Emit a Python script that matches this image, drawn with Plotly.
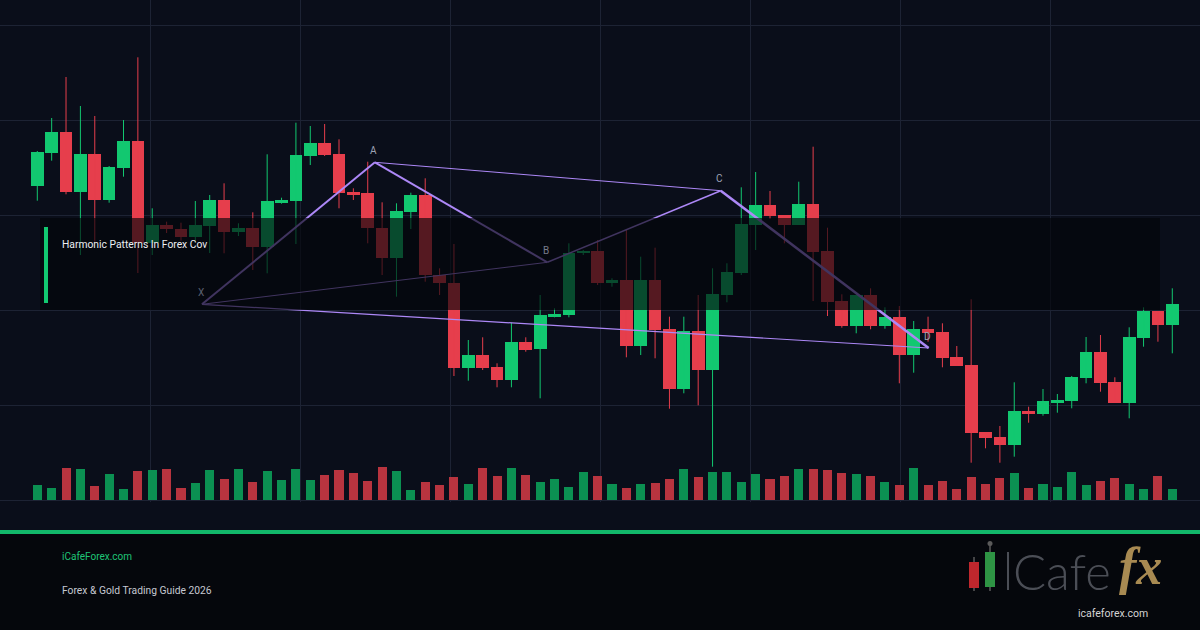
import plotly.graph_objects as go

# ---------------- DATA ----------------
opens = [2331.43, 2334.73, 2336.80, 2330.83, 2334.60, 2330.00, 2333.23, 2335.90, 2325.67, 2327.50,
         2327.07, 2326.33, 2327.43, 2330.00, 2326.83, 2327.17, 2325.27, 2329.70, 2329.90, 2334.40,
         2335.73, 2334.60, 2330.83, 2330.73, 2327.23, 2324.23, 2328.83, 2330.50, 2322.50, 2321.73,
         2313.23, 2314.50, 2313.33, 2312.00, 2315.77, 2315.07, 2318.33, 2318.50, 2324.67, 2324.90,
         2321.73, 2321.97, 2315.40, 2321.97, 2317.07, 2311.13, 2316.87, 2313.00, 2320.53, 2322.70,
         2327.53, 2329.50, 2328.50, 2327.53, 2329.60, 2324.90, 2319.90, 2317.40, 2320.50, 2317.40,
         2318.33, 2314.50, 2317.07, 2316.80, 2314.27, 2313.47, 2306.77, 2306.30, 2305.53, 2308.87,
         2308.60, 2309.73, 2309.93, 2312.23, 2314.80, 2311.80, 2309.73, 2316.23, 2318.90, 2317.50]
highs = [2334.90, 2338.20, 2342.30, 2339.40, 2338.40, 2333.40, 2338.00, 2344.27, 2329.17, 2327.83,
         2327.73, 2329.90, 2330.50, 2331.67, 2327.67, 2328.77, 2334.57, 2330.23, 2337.73, 2337.40,
         2337.60, 2336.07, 2331.17, 2333.83, 2329.77, 2329.67, 2330.73, 2332.17, 2323.17, 2325.60,
         2316.00, 2316.27, 2313.67, 2317.73, 2316.27, 2320.50, 2319.17, 2325.67, 2325.00, 2326.00,
         2322.17, 2327.00, 2324.33, 2325.23, 2318.33, 2318.33, 2320.50, 2323.17, 2323.67, 2331.27,
         2332.80, 2330.90, 2328.50, 2331.83, 2335.33, 2327.23, 2320.57, 2320.50, 2321.17, 2319.27,
         2319.40, 2317.90, 2318.33, 2317.67, 2315.40, 2320.07, 2306.77, 2307.40, 2311.77, 2309.33,
         2311.10, 2310.60, 2312.40, 2316.30, 2316.50, 2312.27, 2317.27, 2319.27, 2318.90, 2321.17]
lows = [2329.93, 2333.93, 2330.57, 2324.50, 2325.70, 2329.73, 2332.33, 2322.70, 2324.50, 2326.70,
        2325.93, 2325.83, 2324.70, 2324.67, 2326.40, 2323.00, 2322.67, 2329.63, 2325.60, 2333.50,
        2334.40, 2329.17, 2330.00, 2325.67, 2322.50, 2320.33, 2327.10, 2321.83, 2320.50, 2312.40,
        2311.93, 2313.00, 2311.27, 2311.27, 2314.83, 2310.17, 2318.27, 2318.27, 2324.50, 2321.50,
        2321.33, 2314.27, 2314.50, 2314.17, 2309.13, 2310.67, 2309.47, 2303.33, 2319.77, 2322.50,
        2325.00, 2328.10, 2325.67, 2327.53, 2319.90, 2318.40, 2317.23, 2316.67, 2317.07, 2317.13,
        2311.67, 2312.73, 2315.83, 2313.27, 2313.43, 2303.73, 2305.17, 2303.73, 2304.33, 2307.73,
        2308.43, 2308.73, 2309.17, 2311.67, 2310.83, 2309.73, 2308.17, 2315.33, 2315.83, 2314.67]
closes = [2334.83, 2336.80, 2330.83, 2334.60, 2330.00, 2333.30, 2335.90, 2325.70, 2327.50, 2327.07,
          2326.27, 2327.50, 2330.00, 2326.83, 2327.17, 2325.27, 2329.90, 2330.00, 2334.50, 2335.73,
          2334.50, 2330.73, 2330.50, 2327.17, 2324.23, 2328.90, 2330.50, 2322.50, 2321.67, 2313.23,
          2314.50, 2313.23, 2312.00, 2315.77, 2315.00, 2318.50, 2318.57, 2324.67, 2324.90, 2321.73,
          2321.97, 2315.40, 2321.97, 2317.00, 2311.13, 2316.87, 2313.00, 2320.60, 2322.80, 2327.57,
          2329.50, 2328.43, 2327.53, 2329.60, 2324.83, 2319.83, 2317.40, 2320.50, 2317.40, 2318.27,
          2314.50, 2317.07, 2316.73, 2314.23, 2313.43, 2306.73, 2306.23, 2305.53, 2308.87, 2308.60,
          2309.90, 2310.00, 2312.30, 2314.80, 2311.73, 2309.73, 2316.30, 2318.90, 2317.50, 2319.60]
volumes = [450, 350, 950, 920, 420, 770, 320, 860, 890, 920,
           350, 500, 890, 620, 920, 530, 860, 590, 920, 590,
           740, 890, 800, 560, 980, 860, 290, 530, 440, 680,
           470, 950, 710, 950, 740, 530, 620, 380, 830, 710,
           470, 350, 470, 500, 620, 920, 680, 830, 830, 530,
           770, 620, 710, 920, 920, 890, 800, 770, 710, 530,
           440, 950, 440, 560, 320, 680, 470, 650, 800, 350,
           470, 380, 830, 440, 560, 650, 470, 320, 710, 320]

pattern_labels = ["X", "A", "B", "C", "D"]
pattern_index = [11.46, 23.50, 35.50, 47.57, 62.04]
pattern_price = [2319.57, 2333.77, 2323.77, 2330.93, 2315.20]
# legs of the harmonic pattern (from label, to label, line width)
pattern_legs = [("X", "A", 2.0), ("A", "B", 2.0), ("B", "C", 1.5), ("C", "D", 2.5),
                ("X", "B", 1.0), ("A", "C", 1.0), ("X", "D", 1.2)]

title_text = "Harmonic Patterns In Forex Cov"
site_text = "iCafeForex.com"
guide_text = "Forex & Gold Trading Guide 2026"

# ---------------- STYLE ----------------
W, H = 1200, 630
BG = "#0a0e1a"
FOOT_BG = "#05070c"
GRID = "#1d2334"
GREEN = "#12c870"
RED = "#e63e4c"
GREEN_VOL = "#0b9052"
RED_VOL = "#b8343f"
PURPLE = "#ad88f7"

X0_PX, STEP_PX = 37.3, 14.367
PLOT_BOTTOM_PX = 502


def px2x(p):
    return p / W


def py2y(p):
    return 1 - p / H


n = len(opens)
idx = list(range(n))
up = [c >= o for o, c in zip(opens, closes)]

fig = go.Figure()

# wicks
for flag, col in ((True, GREEN), (False, RED)):
    xs, ys = [], []
    for i in idx:
        if up[i] == flag:
            xs += [i, i, None]
            ys += [lows[i], highs[i], None]
    fig.add_trace(go.Scatter(x=xs, y=ys, mode="lines", line=dict(color=col, width=1),
                             hoverinfo="skip"))

# bodies
for flag, col in ((True, GREEN), (False, RED)):
    sel = [i for i in idx if up[i] == flag]
    fig.add_trace(go.Bar(x=sel,
                         base=[min(opens[i], closes[i]) for i in sel],
                         y=[max(abs(closes[i] - opens[i]), 0.12) for i in sel],
                         width=0.885, marker=dict(color=col, line=dict(width=0)),
                         hoverinfo="skip"))

# volume
for flag, col in ((True, GREEN_VOL), (False, RED_VOL)):
    sel = [i for i in idx if up[i] == flag]
    fig.add_trace(go.Bar(x=sel, y=[volumes[i] for i in sel], yaxis="y2",
                         width=0.63, marker=dict(color=col, line=dict(width=0)),
                         hoverinfo="skip"))

# harmonic pattern lines
pos = {lab: (pattern_index[k], pattern_price[k]) for k, lab in enumerate(pattern_labels)}
for a, b, w in pattern_legs:
    fig.add_trace(go.Scatter(x=[pos[a][0], pos[b][0]], y=[pos[a][1], pos[b][1]],
                             mode="lines", line=dict(color=PURPLE, width=w),
                             hoverinfo="skip"))

annotations = []
label_colors = {"X": "#5b6070", "A": "#9ea3b5", "B": "#777c8c", "C": "#9ea3b5", "D": "#9ea3b5"}
for lab in pattern_labels:
    annotations.append(dict(x=pos[lab][0], y=pos[lab][1], xref="x", yref="y", text=lab,
                            showarrow=False, yshift=12, xshift=-1,
                            font=dict(family="Roboto", size=10, color=label_colors[lab])))

annotations += [
    dict(x=px2x(60), y=py2y(245), xref="paper", yref="paper", text=title_text,
         showarrow=False, xanchor="left", yanchor="middle",
         font=dict(family="Roboto", size=10.3, color="#eceef3")),
    dict(x=px2x(60), y=py2y(556), xref="paper", yref="paper", text=site_text,
         showarrow=False, xanchor="left", yanchor="middle",
         font=dict(family="Roboto", size=10, color="#1fc577")),
    dict(x=px2x(60), y=py2y(590), xref="paper", yref="paper", text=guide_text,
         showarrow=False, xanchor="left", yanchor="middle",
         font=dict(family="Roboto", size=10.3, color="#c5c9d2")),
    # logo
    dict(x=px2x(1012), y=py2y(571), xref="paper", yref="paper", text="Cafe",
         showarrow=False, xanchor="left", yanchor="middle", borderpad=0,
         font=dict(family="Lato", size=49, color="#4b4e56", weight=300)),
    dict(x=px2x(1140), y=py2y(566), xref="paper", yref="paper", text="fx",
         showarrow=False, xanchor="center", yanchor="middle", borderpad=0,
         font=dict(family="Liberation Serif", size=52, color="#a88a52",
                   weight="bold", style="italic")),
    dict(x=px2x(1113), y=py2y(613), xref="paper", yref="paper", text="icafeforex.com",
         showarrow=False, xanchor="center", yanchor="middle", borderpad=0,
         font=dict(family="Roboto", size=10.5, color="#d4d4d4")),
]

shapes = [
    # footer area and green separator
    dict(type="rect", xref="paper", yref="paper", x0=0, x1=1, y0=0, y1=py2y(534),
         fillcolor=FOOT_BG, line=dict(width=0), layer="below"),
    dict(type="rect", xref="paper", yref="paper", x0=0, x1=1, y0=py2y(534), y1=py2y(530),
         fillcolor="#12b76a", line=dict(width=0), layer="above"),
    # title overlay
    dict(type="rect", xref="paper", yref="paper", x0=px2x(40), x1=px2x(1160),
         y0=py2y(310), y1=py2y(218), fillcolor="rgba(3,5,9,0.64)", line=dict(width=0),
         layer="above"),
    dict(type="rect", xref="paper", yref="paper", x0=px2x(44), x1=px2x(48),
         y0=py2y(303), y1=py2y(227), fillcolor=GREEN, line=dict(width=0), layer="above"),
    # logo candles
    dict(type="line", xref="paper", yref="paper", x0=px2x(974), x1=px2x(974),
         y0=py2y(591), y1=py2y(557), line=dict(color="#5a5a5a", width=1.5)),
    dict(type="rect", xref="paper", yref="paper", x0=px2x(969), x1=px2x(979),
         y0=py2y(588), y1=py2y(562), fillcolor="#c0272d", line=dict(width=0)),
    dict(type="line", xref="paper", yref="paper", x0=px2x(990), x1=px2x(990),
         y0=py2y(591), y1=py2y(545), line=dict(color="#5a5a5a", width=1.5)),
    dict(type="circle", xref="paper", yref="paper", x0=px2x(987.5), x1=px2x(992.5),
         y0=py2y(546), y1=py2y(541), fillcolor="#5a5a5a", line=dict(width=0)),
    dict(type="rect", xref="paper", yref="paper", x0=px2x(985), x1=px2x(995),
         y0=py2y(587), y1=py2y(552), fillcolor="#2e9444", line=dict(width=0)),
    dict(type="line", xref="paper", yref="paper", x0=px2x(1008), x1=px2x(1008),
         y0=py2y(590), y1=py2y(552), line=dict(color="#4b4e56", width=2)),
]

grid_tick_px = [25, 120, 215, 310, 405, 500]
y_top_price = 2350.0
px_per_unit = 10.0
ytickvals = [y_top_price - p / px_per_unit for p in grid_tick_px]

fig.update_layout(
    width=W, height=H, autosize=False,
    margin=dict(l=0, r=0, t=0, b=0, pad=0),
    paper_bgcolor=BG, plot_bgcolor=BG,
    showlegend=False, barmode="overlay", bargap=0,
    xaxis=dict(range=[-X0_PX / STEP_PX, (W - X0_PX) / STEP_PX],
               tick0=(150 - X0_PX) / STEP_PX, dtick=150 / STEP_PX,
               showgrid=True, gridcolor=GRID, gridwidth=1,
               showticklabels=False, zeroline=False, showline=False, ticks=""),
    yaxis=dict(range=[y_top_price - PLOT_BOTTOM_PX / px_per_unit, y_top_price],
               domain=[1 - PLOT_BOTTOM_PX / H, 1],
               tickmode="array", tickvals=ytickvals,
               showgrid=True, gridcolor=GRID, gridwidth=1,
               showticklabels=False, zeroline=False, showline=False, ticks=""),
    yaxis2=dict(overlaying="y", range=[-60, 15000], showgrid=False,
                showticklabels=False, zeroline=False, showline=False, ticks=""),
    annotations=annotations, shapes=shapes,
)

fig.write_html("out.html", config={"displayModeBar": False, "staticPlot": True})
